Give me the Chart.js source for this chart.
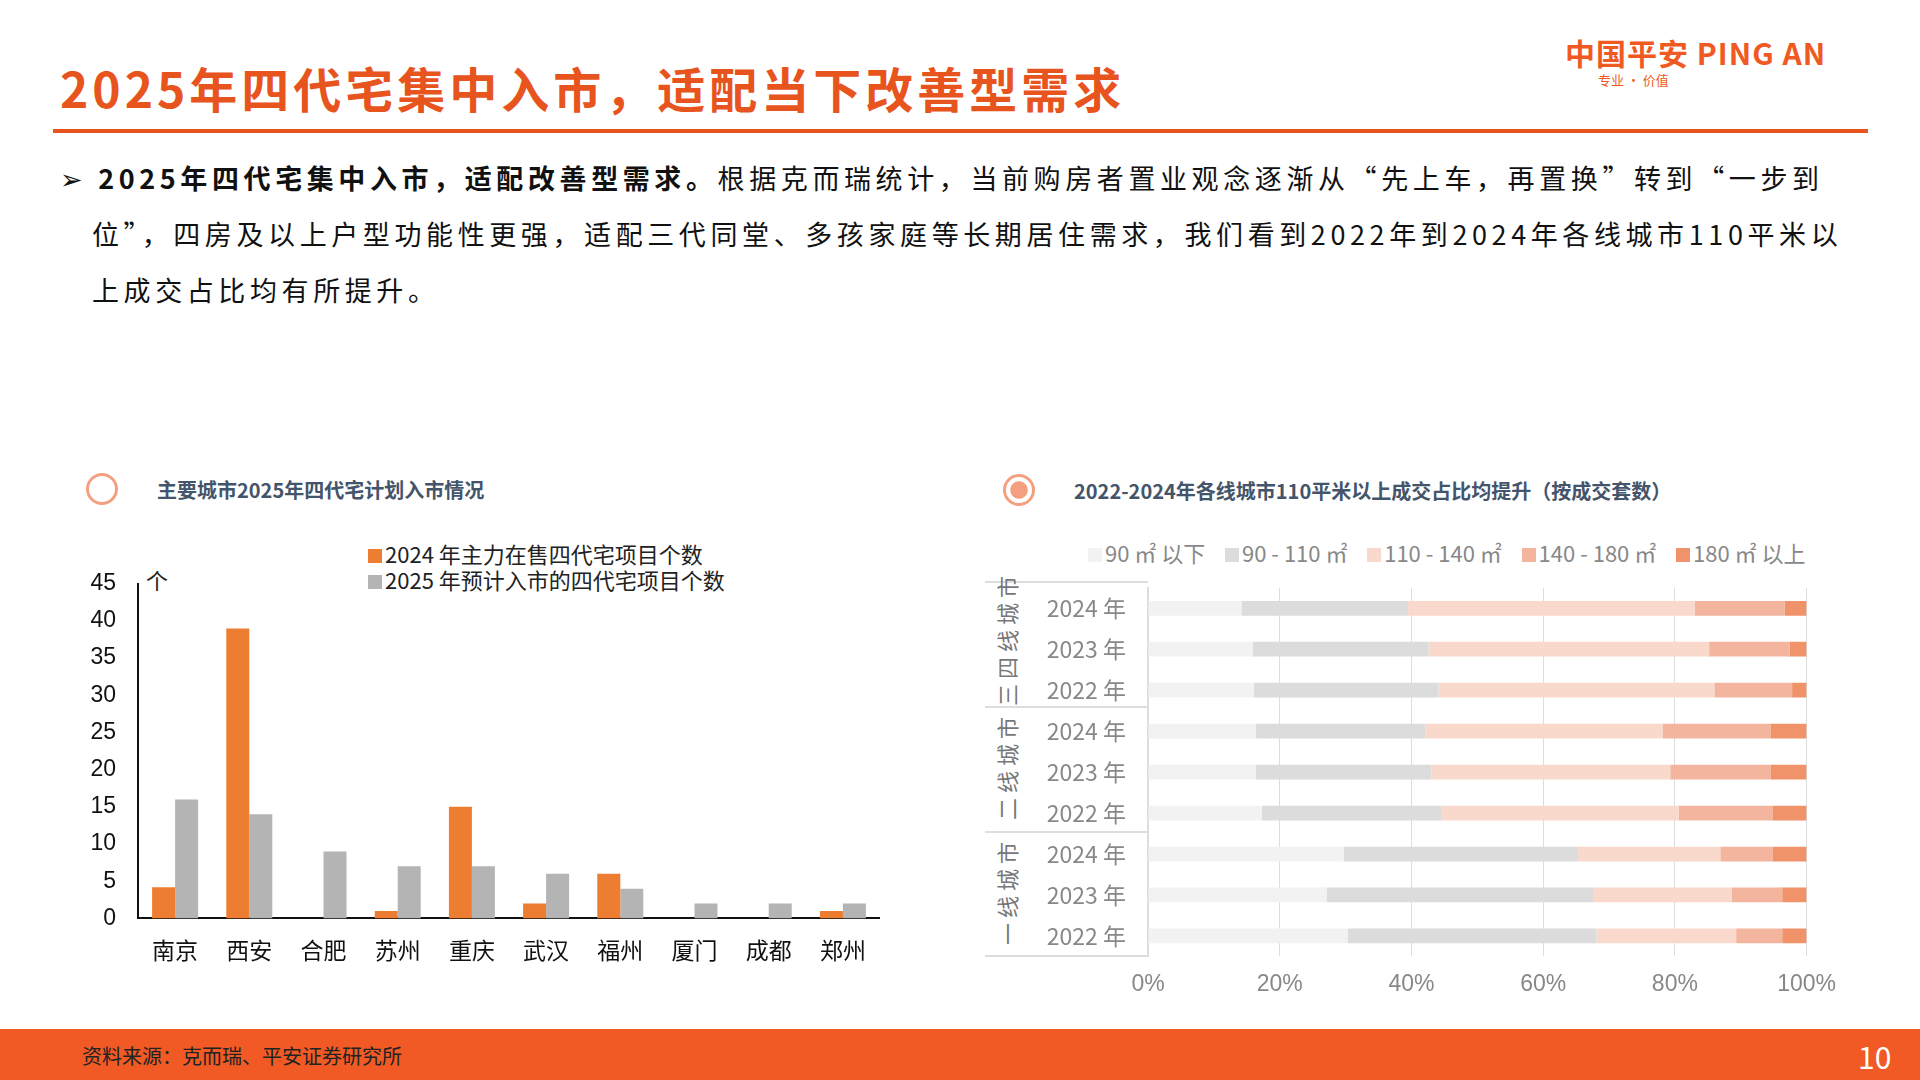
<!DOCTYPE html>
<html><head><meta charset="utf-8">
<script src="https://cdn.jsdelivr.net/npm/chart.js@4.4.1/dist/chart.umd.min.js"></script>
<style>
body{margin:0;width:1920px;height:1080px;position:relative;background:#fff;font-family:"Noto Sans CJK SC","Noto Sans",sans-serif;overflow:hidden}
.a{position:absolute}
#title{left:60px;top:52px;font-size:48px;font-weight:bold;color:#e8541e;letter-spacing:4px}
#rule{left:53px;top:129px;width:1815px;height:4px;background:#e8541e}
#logo{left:1565px;top:30px;font-size:30px;font-weight:bold;color:#f05a22;letter-spacing:1px}
#logo2{left:1598px;top:70px;font-size:13px;color:#f05a22}
#body{left:60px;top:150px;font-size:27px;line-height:56px;color:#111;letter-spacing:4.6px;white-space:nowrap}
.circ{width:26px;height:26px;border:3px solid #f4a080;border-radius:50%}
.sub{font-size:20px;font-weight:bold;color:#44546a}
.leg{font-size:22px;color:#222;line-height:26px}
.sw{display:inline-block;width:14px;height:14px;margin-right:3px}
.rl{font-size:22px;color:#888}
.grp{font-size:22px;color:#777;white-space:nowrap;transform-origin:0 0;transform:rotate(-90deg);letter-spacing:5px}
#foot{left:0;top:1029px;width:1920px;height:51px;background:#f15a24}
#foottxt{left:82px;top:1041px;font-size:20px;color:#222}
#page{left:1858px;top:1034px;font-size:30px;color:#fff}
</style></head><body>
<div class="a" id="title">2025年四代宅集中入市，适配当下改善型需求</div>
<div class="a" id="rule"></div>
<div class="a" id="logo">中国平安 PING AN</div>
<div class="a" id="logo2">专业 · 价值</div>
<div class="a" id="body">➢ <b>2025年四代宅集中入市，适配改善型需求。</b>根据克而瑞统计，当前购房者置业观念逐渐从“先上车，再置换”转到“一步到<br>&nbsp;&nbsp;&nbsp;位”，四房及以上户型功能性更强，适配三代同堂、多孩家庭等长期居住需求，我们看到2022年到2024年各线城市110平米以<br>&nbsp;&nbsp;&nbsp;上成交占比均有所提升。</div>

<div class="a circ" style="left:86px;top:473px"></div>
<div class="a sub" style="left:157px;top:475px">主要城市2025年四代宅计划入市情况</div>
<div class="a leg" style="left:368px;top:540px"><span class="sw" style="background:#ed7d31"></span>2024 年主力在售四代宅项目个数<br><span class="sw" style="background:#b4b4b4"></span>2025 年预计入市的四代宅项目个数</div>
<div class="a leg" style="left:146px;top:566px">个</div>
<canvas class="a" id="c1" style="left:70px;top:556px;width:810px;height:418px" width="810" height="418"></canvas>

<div class="a circ" style="left:1003px;top:474px;background:radial-gradient(circle,#f4a080 45%,#fff 50%)"></div>
<div class="a sub" style="left:1074px;top:476px;width:660px;line-height:30px">2022-2024年各线城市110平米以上成交占比均提升（按成交套数）</div>
<div class="a rl" id="lg2" style="left:1088px;top:536px"></div>
<div class="a" style="left:985px;top:581px;width:163px;height:2px;background:#ddd"></div>
<div class="a" style="left:985px;top:706px;width:163px;height:2px;background:#ddd"></div>
<div class="a" style="left:985px;top:831px;width:163px;height:2px;background:#ddd"></div>
<div class="a" style="left:985px;top:955px;width:163px;height:2px;background:#ddd"></div>
<div class="a grp" style="left:990px;top:706px">三四线城市</div>
<div class="a grp" style="left:990px;top:820px">二线城市</div>
<div class="a grp" style="left:990px;top:945px">一线城市</div>
<canvas class="a" id="c2" style="left:1020px;top:560px;width:830px;height:452px" width="830" height="452"></canvas>

<div class="a" id="foot"></div>
<div class="a" id="foottxt">资料来源：克而瑞、平安证券研究所</div>
<div class="a" id="page">10</div>
<script>
const cities=['南京','西安','合肥','苏州','重庆','武汉','福州','厦门','成都','郑州'];
const onSale2024=[4.2,39,0,1,15,2,6,0,0,1];
const plan2025=[16,14,9,7,7,6,4,2,2,2];
const rowLabels=['2024 年','2023 年','2022 年','2024 年','2023 年','2022 年','2024 年','2023 年','2022 年'];
const areaBands=['90 ㎡ 以下','90 - 110 ㎡','110 - 140 ㎡','140 - 180 ㎡','180 ㎡ 以上'];
const bandColors=['#f2f2f2','#dcdcdc','#f8d9cc','#f3b59e','#f0936a'];
const under90=[14.2,15.9,16.1,16.4,16.4,17.3,29.7,27.1,30.3];
const s90to110=[25.3,26.7,28.0,25.7,26.6,27.3,35.6,40.6,37.8];
const s110to140=[43.5,42.6,41.9,36.1,36.3,36.0,21.6,20.9,21.2];
const s140to180=[13.7,12.2,11.8,16.3,15.2,14.2,7.9,7.7,7.0];
const over180=[3.3,2.6,2.2,5.5,5.5,5.2,5.2,3.7,3.7];

document.getElementById('lg2').innerHTML=areaBands.map((b,i)=>'<span class="sw" style="background:'+bandColors[i]+'"></span>'+b).join('&nbsp;&nbsp;&nbsp;&nbsp;');
Chart.defaults.font.family='"Liberation Sans","Noto Sans CJK SC",sans-serif';
Chart.defaults.animation=false;

new Chart(document.getElementById('c1'),{
  type:'bar',
  data:{labels:cities,datasets:[
    {data:onSale2024,backgroundColor:'#ed7d31'},
    {data:plan2025,backgroundColor:'#b4b4b4'}]},
  options:{responsive:false,plugins:{legend:{display:false},tooltip:{enabled:false}},
    layout:{padding:{top:22}},
    categoryPercentage:0.62,barPercentage:1,
    scales:{
      y:{min:0,max:45,ticks:{stepSize:5,color:'#111',font:{size:23},padding:14},
        grid:{display:false},border:{color:'#111',width:2},afterFit:s=>{s.width=68}},
      x:{ticks:{color:'#111',font:{size:23,family:'"Noto Sans CJK SC"'},padding:10},grid:{display:false},border:{color:'#111',width:2}}
    }}
});
new Chart(document.getElementById('c2'),{
  type:'bar',
  data:{labels:rowLabels,datasets:[under90,s90to110,s110to140,s140to180,over180].map((d,i)=>({label:areaBands[i],data:d,backgroundColor:bandColors[i]}))},
  options:{indexAxis:'y',responsive:false,plugins:{legend:{display:false},tooltip:{enabled:false}},
    layout:{padding:{top:22,right:14}},
    categoryPercentage:1,barPercentage:0.36,
    scales:{
      x:{stacked:true,min:0,max:100,ticks:{stepSize:20,callback:v=>v+'%',color:'#888',font:{size:23},padding:14},
        grid:{color:'#ddd',drawTicks:false},border:{display:false}},
      y:{stacked:true,ticks:{color:'#888',font:{size:23,family:'"Noto Sans CJK SC"'},padding:14},grid:{display:false},
        border:{color:'#ddd',width:2},afterFit:s=>{s.width=128}}
    }}
});
</script>
</body></html>
